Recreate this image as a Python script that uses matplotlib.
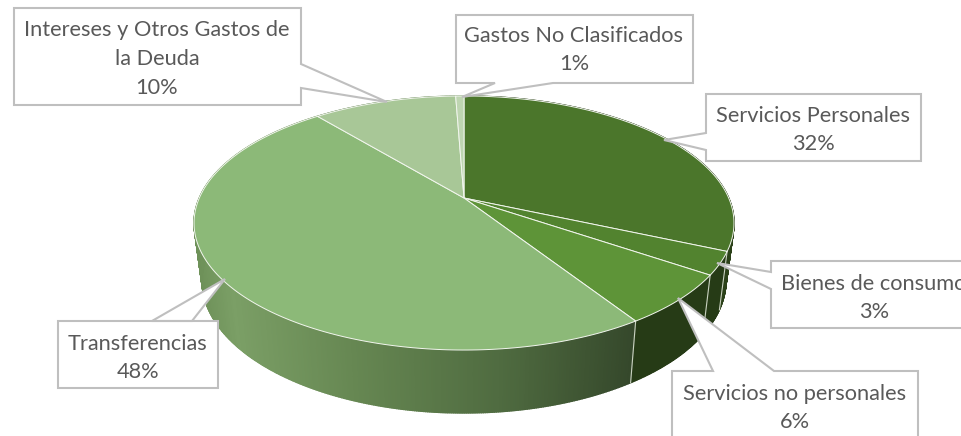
import numpy as np
import matplotlib
matplotlib.use("Agg")
import matplotlib.pyplot as plt
from matplotlib.colors import LinearSegmentedColormap
from matplotlib.patches import Polygon

# Data, clockwise from the top of the pie
categories = ["Servicios Personales", "Bienes de consumo", "Servicios no personales",
              "Transferencias", "Intereses y Otros Gastos de\nla Deuda", "Gastos No Clasificados"]
shares = [31.6, 2.9, 6.4, 48.1, 10.4, 0.6]
face_colors = ["#4B762B", "#52832F", "#5E9438", "#8CB978", "#A8C797", "#BED5B1"]
wall_colors = ["#2B4119", "#263B16", "#263B16", None, "#6A8A58", "#7A9A68"]

# Perspective of the disc, in pixels of the 962x436 picture
TILT = -0.1969
TOP_DISC = (464, 198, 264.7, 122.1)
BOTTOM_DISC = (464, 254, 256.9, 127.7)

# Callout boxes: box corners, the two points where the leader leaves the box, the tip, text centre
boxes = [
    dict(box=(706, 94, 921, 161), leader=[(706, 133), (664, 140), (706, 150)], text=(813, 130)),
    dict(box=(771, 261, 977, 328), leader=[(771, 272), (717, 263), (771, 289)], text=(874, 298)),
    dict(box=(672, 371, 918, 450), leader=[(713, 371), (678, 298), (774, 371)], text=(795, 408)),
    dict(box=(58, 321, 218, 388), leader=[(192, 321), (225, 279), (152, 321)], text=(138, 358)),
    dict(box=(14, 8, 301, 105), leader=[(301, 64), (387, 102), (301, 88)], text=(157, 59)),
    dict(box=(456, 15, 693, 83), leader=[(553, 83), (462, 97), (495, 83)], text=(574, 50)),
]


def project(t, disc):
    # t in degrees clockwise from the back of the pie
    x0, y0, a, b = disc
    u = np.sin(np.radians(t))
    v = np.cos(np.radians(t))
    den = 1 - TILT * v
    return np.column_stack([x0 + a * u / den, y0 - b * v / den])


def callout_outline(box, leader):
    # walk round the box clockwise and put the leader in on the side it leaves from
    x1, y1, x2, y2 = box
    corners = [(x1, y1), (x2, y1), (x2, y2), (x1, y2)]
    a, tip, b = leader
    if a[0] == x1:  # left side
        return corners + [b, tip, a]
    if a[1] == y1:  # top side
        return [corners[0], a, tip, b] + corners[1:]
    if a[1] == y2:  # bottom side
        return corners[:3] + [a, tip, b] + corners[3:]
    return corners[:2] + [a, tip, b] + corners[2:]


plt.rcParams["font.family"] = ["Lato", "DejaVu Sans"]

fig = plt.figure(figsize=(9.62, 4.36), dpi=100)
ax = fig.add_axes([0, 0, 1, 1])

edges = np.concatenate([[0], np.cumsum(shares)]) / np.sum(shares) * 360

# Side wall, built from thin strips so that the silhouette stays closed
wall_ramp = LinearSegmentedColormap.from_list("wall", [
    (0.0, "#6E9159"), (0.085, "#7B9F66"), (0.36, "#668752"), (0.7, "#4F6B40"), (1.0, "#35482B")])
for i in range(len(shares)):
    t = np.linspace(edges[i], edges[i + 1], int(edges[i + 1] - edges[i]) * 3 + 2)
    top = project(t, TOP_DISC)
    bottom = project(t, BOTTOM_DISC)
    for k in range(len(t) - 1):
        quad = [top[k], top[k + 1], bottom[k + 1], bottom[k]]
        if wall_colors[i] is None:
            color = wall_ramp((np.mean(top[k:k + 2, 0]) - 193) / 442)
        else:
            color = wall_colors[i]
        ax.add_patch(Polygon(quad, closed=True, facecolor=color, edgecolor=color,
                             linewidth=1.0, zorder=2))

# Light seams between the slices on the wall
for t in edges[1:4]:
    seam = np.vstack([project(np.array([t]), TOP_DISC), project(np.array([t]), BOTTOM_DISC)])
    ax.plot(seam[:, 0], seam[:, 1], color="#C9D2C0", linewidth=0.8, zorder=2.5)

# Top face, with the centre point of the disc as the apex
apex = (TOP_DISC[0], TOP_DISC[1])
for i in range(len(shares)):
    t = np.linspace(edges[i], edges[i + 1], 200)
    outline = np.vstack([[apex], project(t, TOP_DISC)])
    ax.add_patch(Polygon(outline, closed=True, facecolor=face_colors[i], edgecolor="#F2F6EE",
                         linewidth=0.7, zorder=3))

# Labels
for name, share, spec in zip(categories, shares, boxes):
    outline = callout_outline(spec["box"], spec["leader"])
    ax.add_patch(Polygon(outline, closed=True, facecolor="white", edgecolor="#BFBFBF",
                         linewidth=1.5, joinstyle="miter", zorder=4))
    label = f"{name}\n{round(share / sum(shares) * 100)}%"
    ax.text(spec["text"][0], spec["text"][1], label, ha="center", va="center", color="#595959",
            fontsize=15.7, linespacing=1.54, clip_on=True, zorder=5)

ax.set_xlim(0, 962)
ax.set_ylim(436, 0)
ax.axis("off")

fig.savefig("out.png", dpi=100)
